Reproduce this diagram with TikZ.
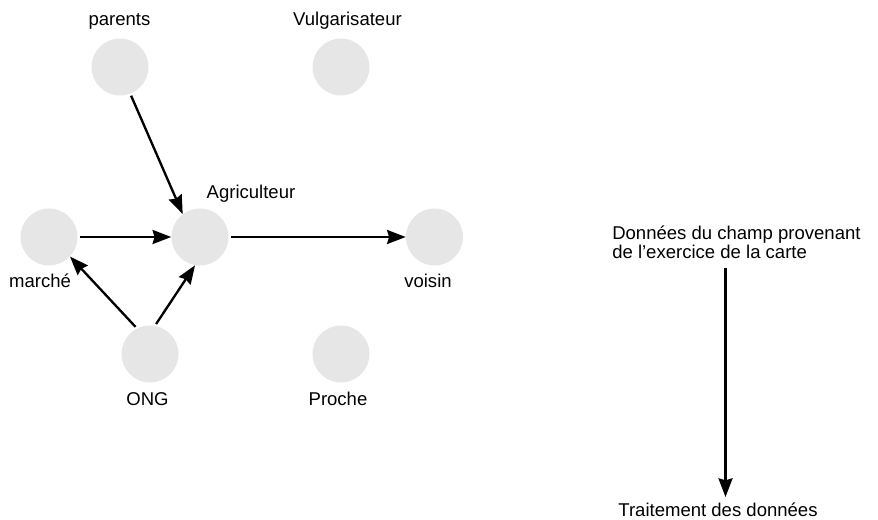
\documentclass[tikz,border=0pt]{standalone}
\usepackage{fontspec}
\setmainfont{Liberation Sans}
\usetikzlibrary{arrows.meta}
\definecolor{circgray}{HTML}{E6E6E6}
\begin{document}
\begin{tikzpicture}[x=0.75pt,y=-0.75pt,
  actor/.style={circle,fill=circgray,draw=none,minimum size=57*0.75pt,inner sep=0pt},
  lbl/.style={anchor=base,inner sep=0pt,font=\fontsize{13.9pt}{15pt}\selectfont},
  link/.style={line width=1.75pt,-{Stealth[length=14pt,width=10.5pt,inset=1.5pt]},shorten <=1.5pt}]
\useasboundingbox (0,0) rectangle (878,520);
% circles
\node[actor] (parents) at (120,67) {};
\node[actor] (vulg) at (341,67) {};
\node[actor] (agri) at (200,237) {};
\node[actor] (marche) at (49,237) {};
\node[actor] (voisin) at (434.5,237) {};
\node[actor] (ong) at (150,354) {};
\node[actor] (proche) at (341,354) {};
% labels
\node[lbl] (tparents) at (119.5,26) {parents};
\node[lbl] (tvulg) at (347.5,26) {Vulgarisateur};
\node[lbl] (tagri) at (251,199) {Agriculteur};
\node[lbl] (tmarche) at (40,287) {marché};
\node[lbl] (tvoisin) at (428,287) {voisin};
\node[lbl] (tong) at (147.5,405) {ONG};
\node[lbl] (tproche) at (338,405) {Proche};
\node[lbl,anchor=base west] (td1) at (612,239.5) {Données du champ provenant};
\node[lbl,anchor=base west] (td2) at (612,258.5) {de l'exercice de la carte};
\node[lbl] (ttrait) at (718,516.5) {Traitement des données};
% connectors
\draw[link] (parents.-69) -- (agri.127);
\draw[link] (marche) -- (agri);
\draw[link] (agri) -- (voisin);
\draw[link] (ong.117) -- (marche.-43);
\draw[link] (ong.80) -- (agri.-100);
\coordinate (vtop) at (725.5,268);
\coordinate (vbot) at (725.5,497);
\draw[link,shorten <=0pt] (vtop) -- (vbot);
\end{tikzpicture}
\end{document}
